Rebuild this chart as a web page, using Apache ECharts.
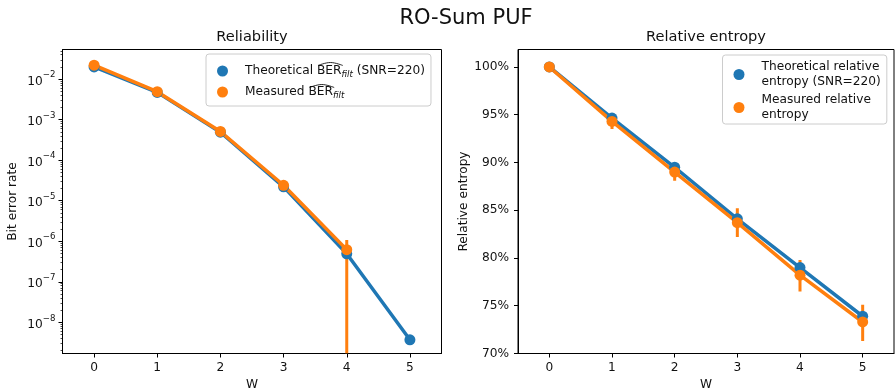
<!DOCTYPE html>
<html><head><meta charset="utf-8">
<script src="https://cdn.jsdelivr.net/npm/echarts@6/dist/echarts.min.js"></script>
<style>html,body{margin:0;padding:0;background:#fff}#c{width:895px;height:389px}</style>
</head><body><div id="c"></div>
<script>
// ---- data ----
const W = [0, 1, 2, 3, 4, 5];
const xTicks = [0, 1, 2, 3, 4, 5];
const berTheo = [0.020, 0.0047, 4.9e-4, 2.2e-5, 4.9e-7, 3.7e-9];
const berMeas = [0.022, 0.0049, 5.1e-4, 2.4e-5, 6.2e-7];
const berMeasLow = [0.0212, 0.0047, 4.9e-4, 2.3e-5, 0];
const berMeasHigh = [0.0228, 0.0051, 5.3e-4, 2.5e-5, 1.07e-6];
const berTicks = [1e-8, 1e-7, 1e-6, 1e-5, 1e-4, 1e-3, 1e-2];
const entTheo = [100, 94.65, 89.5, 84.1, 79.0, 73.9];
const entMeas = [100, 94.3, 89.0, 83.7, 78.2, 73.3];
const entMeasLow = [100, 93.5, 88.1, 82.2, 76.5, 71.3];
const entMeasHigh = [100, 95.0, 89.9, 85.2, 79.8, 75.1];
const entTicks = [70, 75, 80, 85, 90, 95, 100];

const F = 'DejaVu Sans';
const FS = 12.2;
const BLUE = '#1f77b4', ORANGE = '#ff7f0e', TXT = '#111';
const berMin = Math.pow(10, -8.77), berMax = Math.pow(10, -1.27);
const minorTicks = [];
for (let e = -9; e <= -2; e++) for (let k = 2; k <= 9; k++) {
  const v = k * Math.pow(10, e);
  if (v > berMin && v < berMax) minorTicks.push(v);
}

function pairs(xs, ys) { return ys.map((y, i) => [xs[i], y]); }
function triples(xs, lo, hi) { return lo.map((l, i) => [xs[i], l, hi[i]]); }

function errRender(color) {
  return function (params, api) {
    const x = api.value(0), lo = api.value(1), hi = api.value(2);
    const cs = params.coordSys;
    const top = api.coord([x, hi]);
    const bot = lo > 0 ? api.coord([x, lo])[1] : cs.y + cs.height;
    return { type: 'line', shape: { x1: top[0], y1: top[1], x2: top[0], y2: bot },
      style: { stroke: color, lineWidth: 3 } };
  };
}

function xAx(gi) {
  return { type: 'value', gridIndex: gi, min: -0.5, max: 5.5, name: 'W',
    nameLocation: 'middle', nameGap: 19,
    nameTextStyle: { fontFamily: F, fontSize: FS, color: TXT },
    axisLine: { onZero: false, lineStyle: { color: '#000', width: 1 } },
    axisTick: { show: true, length: 4, lineStyle: { color: '#000' }, customValues: xTicks },
    axisLabel: { customValues: xTicks, fontFamily: F, fontSize: FS, color: TXT, margin: 8 },
    splitLine: { show: false } };
}

const supRich = {
  b: { fontFamily: F, fontSize: FS, color: TXT, lineHeight: 17, verticalAlign: 'bottom' },
  s: { fontFamily: F, fontSize: 8.6, color: TXT, lineHeight: 17, verticalAlign: 'top' }
};

const legendRich = {
  t: { fontFamily: F, fontSize: FS, color: TXT, lineHeight: 16, verticalAlign: 'middle' },
  s: { fontFamily: F, fontSize: 8.6, fontStyle: 'italic', color: TXT, lineHeight: 16, verticalAlign: 'bottom' }
};
const legendNames = {
  'Theoretical BER_filt (SNR=220)': '{t|Theoretical BER}{s|filt}{t| (SNR=220)}',
  'Measured BER_filt': '{t|Measured BER}{s|filt}'
};

const chart = echarts.init(document.getElementById('c'), null, { renderer: 'canvas' });
chart.setOption({
  animation: false,
  backgroundColor: '#fff',
  title: [
    { text: 'RO-Sum PUF', left: 466, top: 8, textAlign: 'center', padding: 0,
      textStyle: { fontFamily: F, fontSize: 21, fontWeight: 'normal', color: TXT } },
    { text: 'Reliability', left: 252, top: 30, textAlign: 'center', padding: 0,
      textStyle: { fontFamily: F, fontSize: 14.6, fontWeight: 'normal', color: TXT } },
    { text: 'Relative entropy', left: 706, top: 30, textAlign: 'center', padding: 0,
      textStyle: { fontFamily: F, fontSize: 14.6, fontWeight: 'normal', color: TXT } }
  ],
  grid: [
    { left: 62.5, top: 49.5, width: 379, height: 304, show: true, borderColor: '#000', borderWidth: 1,
      containLabel: false, outerBoundsMode: 'none' },
    { left: 518, top: 49.5, width: 376, height: 304, show: true, borderColor: '#000', borderWidth: 1,
      containLabel: false, outerBoundsMode: 'none' }
  ],
  legend: [
    { orient: 'vertical', left: 206, top: 54, icon: 'circle', itemWidth: 11, itemHeight: 11, itemGap: 7,
      padding: [11, 6, 6, 11], borderColor: '#ccc', borderWidth: 1, borderRadius: 3,
      backgroundColor: 'rgba(255,255,255,0.8)',
      data: ['Theoretical BER_filt (SNR=220)', 'Measured BER_filt'],
      formatter: n => legendNames[n],
      textStyle: { fontFamily: F, fontSize: FS, color: TXT, padding: [0, 0, 0, 12], rich: legendRich } },
    { orient: 'vertical', left: 722.5, top: 55, icon: 'circle', itemWidth: 11, itemHeight: 11, itemGap: 4,
      padding: [5, 6, 2, 11], borderColor: '#ccc', borderWidth: 1, borderRadius: 3,
      backgroundColor: 'rgba(255,255,255,0.8)',
      data: ['Theoretical relative\nentropy (SNR=220)', 'Measured relative\nentropy'],
      textStyle: { fontFamily: F, fontSize: FS, color: TXT, lineHeight: 14.5, padding: [0, 0, 0, 12] } }
  ],
  xAxis: [xAx(0), xAx(1)],
  yAxis: [
    { type: 'log', logBase: 10, gridIndex: 0, min: berMin, max: berMax,
      name: 'Bit error rate', nameLocation: 'middle', nameGap: 44,
      nameTextStyle: { fontFamily: F, fontSize: FS, color: TXT },
      axisLine: { show: true, onZero: false, lineStyle: { color: '#000', width: 1 } },
      axisTick: { show: true, length: 4, lineStyle: { color: '#000' }, customValues: berTicks },
      axisLabel: { customValues: berTicks, margin: 7,
        formatter: v => '{b|10}{s|\u2212' + Math.round(-Math.log10(v)) + '}', rich: supRich },
      splitLine: { show: false } },
    { type: 'log', logBase: 10, gridIndex: 0, min: berMin, max: berMax, position: 'left',
      axisLine: { show: false, onZero: false },
      axisTick: { show: true, length: 2, lineStyle: { color: '#000', width: 0.7 }, customValues: minorTicks },
      axisLabel: { show: false }, splitLine: { show: false } },
    { type: 'value', gridIndex: 1, min: 70, max: 101.83,
      name: 'Relative entropy', nameLocation: 'middle', nameGap: 47,
      nameTextStyle: { fontFamily: F, fontSize: FS, color: TXT },
      axisLine: { show: true, onZero: false, lineStyle: { color: '#000', width: 1 } },
      axisTick: { show: true, length: 4, lineStyle: { color: '#000' }, customValues: entTicks },
      axisLabel: { customValues: entTicks, margin: 9, fontFamily: F, fontSize: FS, color: TXT,
        formatter: v => v + '%' },
      splitLine: { show: false } }
  ],
  series: [
    { name: 'Theoretical BER_filt (SNR=220)', type: 'line', xAxisIndex: 0, yAxisIndex: 0,
      data: pairs(W, berTheo), color: BLUE, symbol: 'circle', symbolSize: 11,
      lineStyle: { width: 3.5, color: BLUE }, itemStyle: { color: BLUE } },
    { name: 'Measured BER_filt', type: 'line', xAxisIndex: 0, yAxisIndex: 0,
      data: pairs(W, berMeas), color: ORANGE, symbol: 'circle', symbolSize: 11,
      lineStyle: { width: 3.5, color: ORANGE }, itemStyle: { color: ORANGE } },
    { name: 'Measured BER_filt', type: 'custom', xAxisIndex: 0, yAxisIndex: 0, clip: true,
      data: triples(W, berMeasLow, berMeasHigh), renderItem: errRender(ORANGE),
      encode: { x: 0, y: [1, 2] }, itemStyle: { color: ORANGE } },
    { name: 'Theoretical relative\nentropy (SNR=220)', type: 'line', xAxisIndex: 1, yAxisIndex: 2,
      data: pairs(W, entTheo), color: BLUE, symbol: 'circle', symbolSize: 11,
      lineStyle: { width: 3.5, color: BLUE }, itemStyle: { color: BLUE } },
    { name: 'Measured relative\nentropy', type: 'line', xAxisIndex: 1, yAxisIndex: 2,
      data: pairs(W, entMeas), color: ORANGE, symbol: 'circle', symbolSize: 11,
      lineStyle: { width: 3.5, color: ORANGE }, itemStyle: { color: ORANGE } },
    { name: 'Measured relative\nentropy', type: 'custom', xAxisIndex: 1, yAxisIndex: 2, clip: true,
      data: triples(W, entMeasLow, entMeasHigh), renderItem: errRender(ORANGE),
      encode: { x: 0, y: [1, 2] }, itemStyle: { color: ORANGE } }
  ],
  graphic: [
    { type: 'polyline', silent: true, z: 100,
      shape: { points: [[318, 65.5], [330.4, 62.5], [342.8, 65.5]], smooth: 0.4 },
      style: { stroke: TXT, lineWidth: 0.9, fill: null } },
    { type: 'polyline', silent: true, z: 100,
      shape: { points: [[309.5, 87.5], [321.8, 84.5], [334.2, 87.5]], smooth: 0.4 },
      style: { stroke: TXT, lineWidth: 0.9, fill: null } }
  ]
});
</script>
</body></html>
